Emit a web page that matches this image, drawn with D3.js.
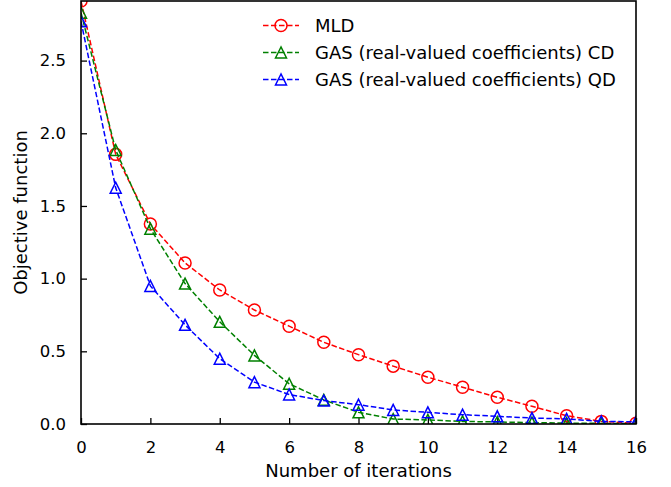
<!DOCTYPE html>
<html>
<head>
<meta charset="utf-8">
<script src="https://cdn.jsdelivr.net/npm/d3@7"></script>
<style>
  html, body { margin: 0; padding: 0; background: #fff; }
  svg { display: block; font-family: "DejaVu Sans", sans-serif; }
</style>
</head>
<body>
<div id="chart"></div>
<script>
const iterations = [0,1,2,3,4,5,6,7,8,9,10,11,12,13,14,15,16];
const mld = [2.91,1.855,1.376,1.108,0.922,0.784,0.673,0.562,0.477,0.398,0.322,0.253,0.184,0.122,0.057,0.018,0.005];
const gasCD = [2.83,1.885,1.344,0.966,0.703,0.472,0.277,0.166,0.080,0.034,0.028,0.018,0.014,0.010,0.006,0.004,0.002];
const gasQD = [2.77,1.625,0.950,0.682,0.449,0.288,0.203,0.161,0.133,0.097,0.080,0.064,0.053,0.041,0.035,0.018,0.015];
const xTicks = [0,2,4,6,8,10,12,14,16];
const yTicks = [0.0,0.5,1.0,1.5,2.0,2.5];
const seriesNames = ["MLD","GAS (real-valued coefficients) CD","GAS (real-valued coefficients) QD"];
const seriesColors = ["#ff0000","#008000","#0000ff"];
const seriesMarkers = ["circle","triangle","triangle"];
const seriesValues = [mld, gasCD, gasQD];

const W = 671, H = 487;
const margin = {left: 81, right: 35, top: 1, bottom: 63};
const iw = W - margin.left - margin.right;
const ih = H - margin.top - margin.bottom;

const svg = d3.select("#chart").append("svg").attr("width", W).attr("height", H);
const g = svg.append("g").attr("transform", `translate(${margin.left},${margin.top})`);

const x = d3.scaleLinear().domain([0,16]).range([0, iw]);
const y = d3.scaleLinear().domain([0,2.91]).range([ih, 0]);

svg.append("defs").append("clipPath").attr("id","clip")
  .append("rect").attr("x",0).attr("y",0).attr("width",iw).attr("height",ih);

// axes
const xAxis = d3.axisBottom(x).tickValues(xTicks).tickFormat(d3.format("d"))
  .tickSizeInner(-6).tickSizeOuter(0).tickPadding(17);
const yAxis = d3.axisLeft(y).tickValues(yTicks).tickFormat(d3.format(".1f"))
  .tickSizeInner(-6).tickSizeOuter(0).tickPadding(15);

const gx = g.append("g").attr("transform", `translate(0,${ih})`).call(xAxis);
const gy = g.append("g").call(yAxis);
[gx, gy].forEach(a => {
  a.select(".domain").remove();
  a.selectAll(".tick line").attr("stroke","#000").attr("stroke-width",1.3);
  a.selectAll(".tick text").attr("fill","#000").style("font-size","16.5px").style("font-family","DejaVu Sans");
});

// lines and markers
const line = d3.line().x((d,i) => x(iterations[i])).y(d => y(d));
const plot = g.append("g").attr("clip-path","url(#clip)");
const triPath = r => `M0,${-r}L${-r},${r}L${r},${r}Z`;

function drawMarker(sel, type, color) {
  if (type === "circle") {
    sel.append("circle").attr("r",6).attr("fill","none").attr("stroke",color).attr("stroke-width",1.5);
  } else {
    sel.append("path").attr("d",triPath(5.5)).attr("fill","none").attr("stroke",color).attr("stroke-width",1.5);
  }
}

seriesValues.forEach((vals, s) => {
  plot.append("path").datum(vals).attr("d", line)
    .attr("fill","none").attr("stroke",seriesColors[s]).attr("stroke-width",1.5)
    .attr("stroke-dasharray","5.5,2.5");
  vals.forEach((v,i) => {
    const m = plot.append("g").attr("transform",`translate(${x(iterations[i])},${y(v)})`);
    drawMarker(m, seriesMarkers[s], seriesColors[s]);
  });
});

// frame
g.append("rect").attr("x",0).attr("y",0).attr("width",iw).attr("height",ih)
  .attr("fill","none").attr("stroke","#000").attr("stroke-width",1.6);

// axis labels
svg.append("text").attr("x", margin.left + iw/2).attr("y", 477)
  .attr("text-anchor","middle").style("font-size","18px").text("Number of iterations");
svg.append("text").attr("transform", `translate(27,${margin.top + ih/2}) rotate(-90)`)
  .attr("text-anchor","middle").style("font-size","18px").text("Objective function");

// legend
const legY = [25.5, 52.5, 79.5];
seriesNames.forEach((name, s) => {
  const lg = svg.append("g").attr("transform", `translate(263,${legY[s]})`);
  lg.append("line").attr("x1",0).attr("x2",36).attr("y1",0).attr("y2",0)
    .attr("stroke",seriesColors[s]).attr("stroke-width",1.5).attr("stroke-dasharray","5.5,2.5");
  const m = lg.append("g").attr("transform","translate(18,0)");
  drawMarker(m, seriesMarkers[s], seriesColors[s]);
  lg.append("text").attr("x",52).attr("y",6.5).style("font-size","18px").text(name);
});
</script>
</body>
</html>
